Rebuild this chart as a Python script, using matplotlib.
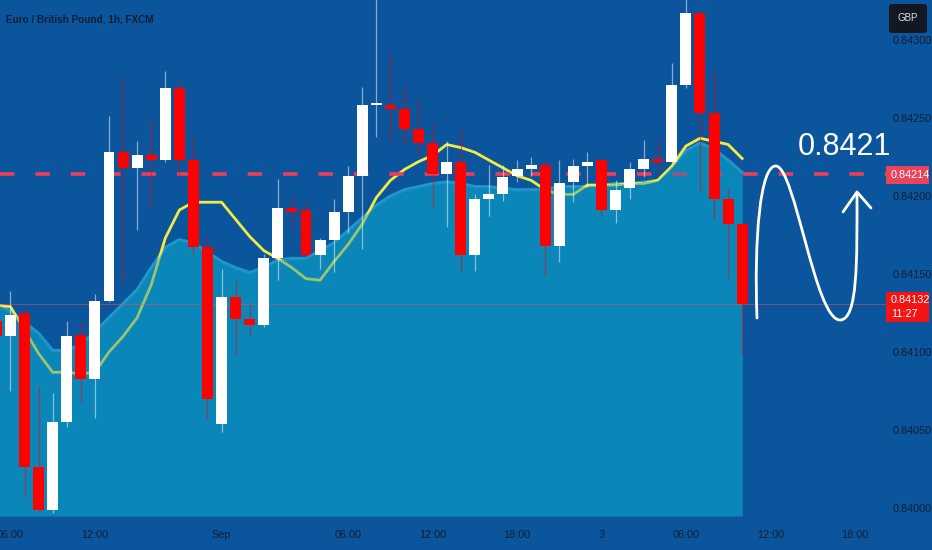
import matplotlib
matplotlib.use("Agg")
import matplotlib.pyplot as plt
from matplotlib.patches import Rectangle, FancyBboxPatch, PathPatch
from matplotlib.path import Path

# ---------------- data ----------------
bar_index = list(range(-1, 53))
opens = [0.84120, 0.84110, 0.84125, 0.84026, 0.83999, 0.84055, 0.84111, 0.84083, 0.84133, 0.84228,
         0.84218, 0.84226, 0.84223, 0.84269, 0.84223, 0.84167, 0.84054, 0.84135, 0.84121, 0.84117,
         0.84160, 0.84192, 0.84191, 0.84162, 0.84172, 0.84190, 0.84213, 0.84258, 0.84258, 0.84256,
         0.84243, 0.84234, 0.84214, 0.84222, 0.84162, 0.84198, 0.84201, 0.84213, 0.84217, 0.84220,
         0.84168, 0.84209, 0.84219, 0.84223, 0.84191, 0.84205, 0.84217, 0.84224, 0.84222, 0.84271,
         0.84317, 0.84253, 0.84198, 0.84182]
highs = [0.84122, 0.84139, 0.84126, 0.84078, 0.84074, 0.84120, 0.84120, 0.84137, 0.84251, 0.84276,
         0.84235, 0.84249, 0.84280, 0.84274, 0.84238, 0.84174, 0.84153, 0.84146, 0.84131, 0.84163,
         0.84211, 0.84199, 0.84196, 0.84173, 0.84198, 0.84219, 0.84270, 0.84330, 0.84292, 0.84270,
         0.84262, 0.84246, 0.84235, 0.84243, 0.84201, 0.84220, 0.84220, 0.84223, 0.84225, 0.84223,
         0.84223, 0.84224, 0.84228, 0.84224, 0.84210, 0.84222, 0.84236, 0.84236, 0.84285, 0.84340,
         0.84318, 0.84281, 0.84205, 0.84183]
lows = [0.84108, 0.84075, 0.84007, 0.83998, 0.83997, 0.84052, 0.84068, 0.84058, 0.84132, 0.84145,
        0.84178, 0.84193, 0.84222, 0.84213, 0.84163, 0.84057, 0.84049, 0.84098, 0.84110, 0.84116,
        0.84146, 0.84180, 0.84161, 0.84153, 0.84151, 0.84176, 0.84166, 0.84238, 0.84236, 0.84233,
        0.84227, 0.84193, 0.84180, 0.84151, 0.84152, 0.84187, 0.84197, 0.84209, 0.84213, 0.84149,
        0.84158, 0.84196, 0.84206, 0.84187, 0.84183, 0.84198, 0.84212, 0.84215, 0.84221, 0.84269,
        0.84203, 0.84185, 0.84147, 0.84098]
closes = [0.84110, 0.84124, 0.84026, 0.83999, 0.84055, 0.84110, 0.84083, 0.84133, 0.84228, 0.84218,
          0.84226, 0.84223, 0.84269, 0.84223, 0.84167, 0.84070, 0.84135, 0.84121, 0.84117, 0.84160,
          0.84192, 0.84190, 0.84162, 0.84172, 0.84190, 0.84213, 0.84258, 0.84259, 0.84256, 0.84243,
          0.84234, 0.84214, 0.84222, 0.84162, 0.84198, 0.84201, 0.84212, 0.84217, 0.84220, 0.84168,
          0.84208, 0.84219, 0.84222, 0.84191, 0.84204, 0.84217, 0.84224, 0.84222, 0.84271, 0.84317,
          0.84253, 0.84198, 0.84182, 0.84131]
ema_line = [0.84130, 0.84129, 0.84114, 0.84099, 0.84087, 0.84087, 0.84086, 0.84087, 0.84100, 0.84110,
            0.84122, 0.84143, 0.84173, 0.84191, 0.84196, 0.84196, 0.84196, 0.84185, 0.84174, 0.84165,
            0.84160, 0.84154, 0.84147, 0.84146, 0.84158, 0.84169, 0.84182, 0.84199, 0.84210, 0.84217,
            0.84222, 0.84226, 0.84233, 0.84231, 0.84228, 0.84223, 0.84218, 0.84213, 0.84210, 0.84204,
            0.84201, 0.84201, 0.84207, 0.84207, 0.84207, 0.84208, 0.84208, 0.84210, 0.84219, 0.84232,
            0.84237, 0.84235, 0.84233, 0.84224]
area_line = [0.84131, 0.84126, 0.84119, 0.84112, 0.84101, 0.84101, 0.84105, 0.84113, 0.84122, 0.84131,
             0.84140, 0.84154, 0.84167, 0.84172, 0.84170, 0.84164, 0.84158, 0.84154, 0.84151, 0.84154,
             0.84159, 0.84160, 0.84160, 0.84165, 0.84170, 0.84178, 0.84186, 0.84194, 0.84200, 0.84204,
             0.84206, 0.84208, 0.84209, 0.84208, 0.84206, 0.84206, 0.84205, 0.84204, 0.84204, 0.84204,
             0.84206, 0.84206, 0.84206, 0.84207, 0.84208, 0.84208, 0.84209, 0.84210, 0.84219, 0.84229,
             0.84234, 0.84230, 0.84223, 0.84215]
time_tick_pos = [0, 6, 15, 24, 30, 36, 42, 48, 54, 60]
time_tick_labels = ["06:00", "12:00", "Sep", "06:00", "12:00", "18:00", "3", "06:00", "12:00", "18:00"]
price_ticks = [0.84000, 0.84050, 0.84100, 0.84150, 0.84200, 0.84250, 0.84300]
level_price = 0.84214
last_price = 0.84131
last_price_label = "0.84132"
countdown = "11:27"
target_label = "0.8421"
title_text = "Euro / British Pound, 1h, FXCM"
currency = "GBP"

# ---------------- style ----------------
W, H = 932, 550
BG = "#0a559b"
TEAL = "#0a86b8"
TXT = "#0f1d36"
NARROW = ["Liberation Sans Narrow", "Liberation Sans", "DejaVu Sans"]

fig = plt.figure(figsize=(W / 100, H / 100), dpi=100, facecolor=BG)


def fp(x, y):
    """pixel (from top-left) -> figure fraction"""
    return (x / W, 1 - y / H)


ax = fig.add_axes([0, 34 / H, 886 / W, 516 / H])
ax.set_facecolor(BG)
for s in ax.spines.values():
    s.set_visible(False)
ax.set_xlim(-0.746, 62.22)
ax.set_ylim(0.839949, 0.843256)

ybot = 0.839949
# area fill (opaque)
ax.fill_between(bar_index, area_line, ybot, color=TEAL, lw=0, zorder=1)
ax.plot(bar_index, area_line, color="#2aa6d8", lw=2.2, alpha=0.8, zorder=1.2,
        solid_joinstyle="round")
# yellow average line and dashed level
ax.plot(bar_index, ema_line, color="#f4ea45", lw=2.0, zorder=2, solid_joinstyle="round")
ax.axhline(level_price, color="#ee3d5a", lw=2.6, dashes=(4.0, 5.8), zorder=2)
# translucent overlay of area to tint what lies beneath
ax.fill_between(bar_index, area_line, ybot, color=TEAL, alpha=0.38, lw=0, zorder=3)
# last price thin line
ax.axhline(last_price, color="#ff5050", lw=0.8, alpha=0.45, zorder=3.5)

# candles
for x, o, h, l, c in zip(bar_index, opens, highs, lows, closes):
    col = "#ffffff" if c >= o else "#fe0000"
    ax.vlines(x, l, h, color=col, lw=0.9, alpha=0.5, zorder=4)
    hgt = max(abs(c - o), 0.000013)
    ax.bar(x, hgt, bottom=min(o, c), width=0.78, color=col, lw=0, zorder=5)

# axes ticks
ax.set_xticks(time_tick_pos)
ax.set_xticklabels(time_tick_labels)
ax.yaxis.tick_right()
ax.set_yticks(price_ticks)
ax.set_yticklabels([f"{p:.5f}" for p in price_ticks])
ax.tick_params(axis="x", length=0, pad=10, labelsize=7.8, labelcolor=TXT)
ax.tick_params(axis="y", length=0, pad=5, labelsize=7.8, labelcolor=TXT)
for lab in ax.get_xticklabels() + ax.get_yticklabels():
    lab.set_family(NARROW)
for lab in ax.get_xticklabels():
    lab.set_clip_on(False)

# title
fig.text(*fp(6, 19), title_text, fontsize=7.2, color=TXT, family=NARROW,
         ha="left", va="center", fontweight="bold")

# currency box
fig.patches.append(FancyBboxPatch(fp(889, 33), 38 / W, 29 / H, boxstyle="round,pad=0,rounding_size=0.004",
                                  transform=fig.transFigure, facecolor="#131722", edgecolor="none", zorder=10))
fig.text(*fp(908, 18), currency, fontsize=7, color="#d8dce6", family=NARROW,
         ha="center", va="center", zorder=11)

# level price box
fig.patches.append(Rectangle(fp(886, 184), 43 / W, 18 / H, transform=fig.transFigure,
                             facecolor="#e9455a", edgecolor="none", zorder=10))
fig.text(*fp(891, 175), f"{level_price:.5f}", fontsize=7.8, color="white", family=NARROW,
         ha="left", va="center", zorder=11)

# last price box
fig.patches.append(Rectangle(fp(886, 322), 43 / W, 30 / H, transform=fig.transFigure,
                             facecolor="#f41414", edgecolor="none", zorder=10))
fig.text(*fp(891, 300), last_price_label, fontsize=7.8, color="white", family=NARROW,
         ha="left", va="center", zorder=11)
fig.text(*fp(891, 314), countdown, fontsize=7.8, color="white", family=NARROW,
         ha="left", va="center", zorder=11)

# hand-drawn target text and arrow
fig.text(*fp(844, 147), target_label, fontsize=22, color="white", family=NARROW,
         ha="center", va="center", zorder=11)
verts = [fp(757, 318), fp(754, 240), fp(760, 165), fp(776, 166),
         fp(795, 167), fp(815, 320), fp(840, 320),
         fp(858, 320), fp(857, 260), fp(857, 194)]
codes = [Path.MOVETO] + [Path.CURVE4] * 9
fig.patches.append(PathPatch(Path(verts, codes), transform=fig.transFigure, facecolor="none",
                             edgecolor="white", lw=2.0, capstyle="round", zorder=11))
arrow = [fp(843, 212), fp(857, 192), fp(871, 208)]
fig.patches.append(PathPatch(Path(arrow, [Path.MOVETO, Path.LINETO, Path.LINETO]),
                             transform=fig.transFigure, facecolor="none", edgecolor="white",
                             lw=2.0, capstyle="round", joinstyle="round", zorder=11))

fig.savefig("out.png", dpi=100, facecolor=BG)
